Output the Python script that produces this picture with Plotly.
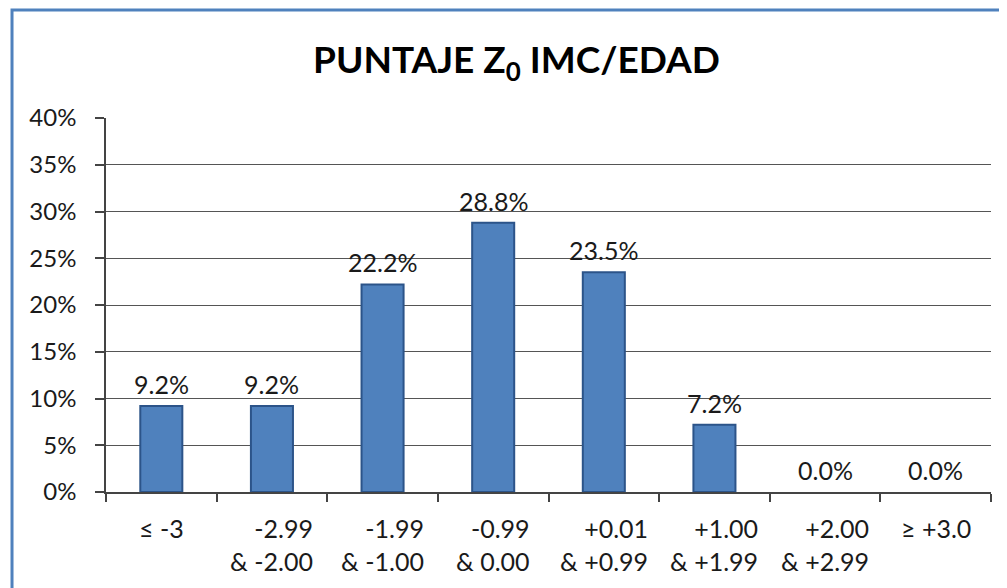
import plotly.graph_objects as go

categories = ["≤ -3", "-2.99<br>& -2.00", "-1.99<br>& -1.00", "-0.99<br>& 0.00",
              "+0.01<br>& +0.99", "+1.00<br>& +1.99", "+2.00<br>& +2.99", "≥ +3.0"]
values = [9.2, 9.2, 22.2, 28.8, 23.5, 7.2, 0.0, 0.0]
y_ticks = [0, 5, 10, 15, 20, 25, 30, 35, 40]
title_text = "PUNTAJE Z<sub>0</sub> IMC/EDAD"

FONT = "Lato"
TXT = "#1a1a1a"
idx = list(range(len(categories)))

fig = go.Figure()
fig.add_trace(go.Bar(
    x=idx, y=values,
    marker=dict(color="#4F81BD",
                line=dict(color="#2C5489", width=[2 if v > 0 else 0 for v in values])),
    width=0.38,
))

# data labels
for i, v in zip(idx, values):
    fig.add_annotation(x=i, y=v, xref="x", yref="y", text=f"{v:.1f}%",
                       showarrow=False, yanchor="bottom", yshift=5,
                       font=dict(family=FONT, size=25, color=TXT))

# category labels (centred block, right-aligned lines)
for i, c in zip(idx, categories):
    fig.add_annotation(x=i, y=0, xref="x", yref="y", text=c, align="right",
                       showarrow=False, yanchor="top", yshift=-19,
                       font=dict(family=FONT, size=25, color=TXT))

fig.add_annotation(x=0.464, y=1.15, xref="paper", yref="paper", text=title_text,
                   showarrow=False, xanchor="center", yanchor="middle",
                   font=dict(family=FONT, size=37, color="#000000", weight="bold"))

# outer chart border
fig.add_shape(type="rect", xref="paper", yref="paper",
              x0=-0.1062, x1=1.2, y0=-0.4, y1=1.289,
              line=dict(color="#4F81BD", width=3), fillcolor="rgba(0,0,0,0)", layer="below")

fig.update_layout(
    width=1007, height=588,
    margin=dict(l=98, r=24, t=110, b=104),
    paper_bgcolor="white", plot_bgcolor="white",
    showlegend=False,
    xaxis=dict(range=[-0.5, len(categories) - 0.5], tickmode="array",
               tickvals=[i - 0.5 for i in idx] + [len(categories) - 0.5],
               showticklabels=False,
               ticks="outside", ticklen=8, tickcolor="#444", tickwidth=1.5,
               showline=True, linecolor="#444", linewidth=1.5,
               showgrid=False, zeroline=False, fixedrange=True),
    yaxis=dict(range=[0, 40], tickmode="array", tickvals=y_ticks,
               ticktext=[f"{t}%" for t in y_ticks],
               ticks="outside", ticklen=9, tickcolor="#444", tickwidth=1.5,
               ticklabelstandoff=14,
               showline=True, linecolor="#444", linewidth=1.5,
               showgrid=True, gridcolor="#555", gridwidth=1.2, zeroline=False,
               tickfont=dict(family=FONT, size=24, color=TXT)),
)

fig.write_html("out.html")
